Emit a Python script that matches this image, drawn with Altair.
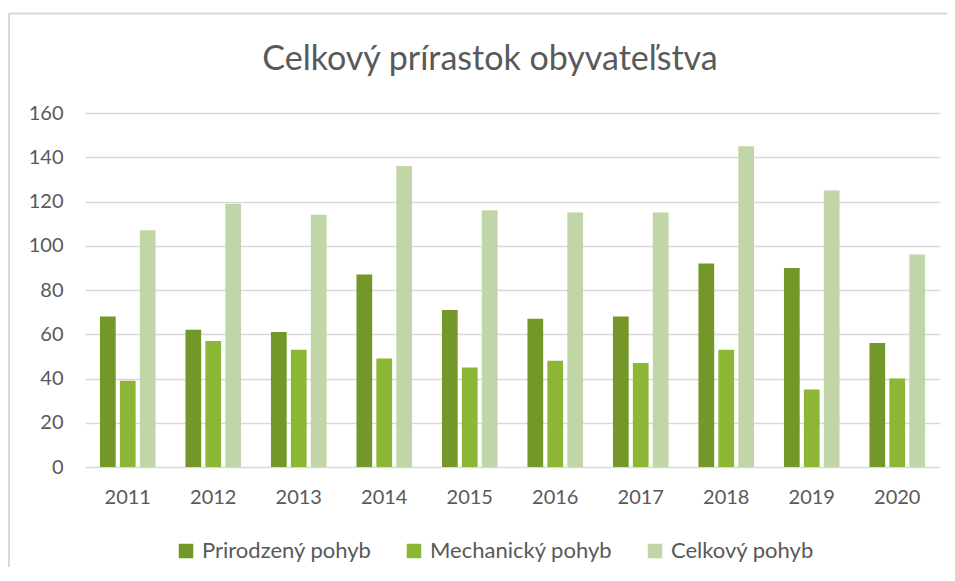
import altair as alt
import pandas as pd

years = ["2011", "2012", "2013", "2014", "2015", "2016", "2017", "2018", "2019", "2020"]
prirodzeny = [68, 62, 61, 87, 71, 67, 68, 92, 90, 56]
mechanicky = [39, 57, 53, 49, 45, 48, 47, 53, 35, 40]
celkovy = [107, 119, 114, 136, 116, 115, 115, 145, 125, 96]
series = ["Prirodzený pohyb", "Mechanický pohyb", "Celkový pohyb"]
colors = ["#739829", "#8BB734", "#C0D6A6"]
y_ticks = [0, 20, 40, 60, 80, 100, 120, 140, 160]
title_text = "Celkový prírastok obyvateľstva"

rows = []
for name, vals in zip(series, [prirodzeny, mechanicky, celkovy]):
    for yr, v in zip(years, vals):
        rows.append({"Rok": yr, "Séria": name, "Hodnota": v})
df = pd.DataFrame(rows)

FONT = "Lato"
TXT = "#595959"
W, H = 855, 354

bars = alt.Chart(df).mark_bar().encode(
    x=alt.X("Rok:N", sort=years, title=None,
            scale=alt.Scale(paddingInner=0, paddingOuter=0),
            axis=alt.Axis(labelAngle=0, domain=False, ticks=False, labelPadding=20,
                          labelFontSize=20, labelColor=TXT, labelFont=FONT)),
    xOffset=alt.XOffset("Séria:N", sort=series,
                        scale=alt.Scale(paddingInner=0.21, paddingOuter=0.75)),
    y=alt.Y("Hodnota:Q", title=None,
            scale=alt.Scale(domain=[0, 160], nice=False),
            axis=alt.Axis(values=y_ticks, domain=False, ticks=False, labelPadding=22,
                          labelFontSize=20, labelColor=TXT, labelFont=FONT,
                          gridColor="#D9D9D9", gridWidth=1.5)),
    color=alt.Color("Séria:N", sort=series,
                    scale=alt.Scale(domain=series, range=colors),
                    legend=alt.Legend(title=None, orient="none", direction="horizontal",
                                      legendX=90, legendY=427, symbolType="square",
                                      symbolSize=210, symbolStrokeWidth=0,
                                      labelFontSize=22, labelColor=TXT, labelFont=FONT,
                                      labelOffset=5, columnPadding=31, labelLimit=400)),
)

one = pd.DataFrame({"t": [title_text]})
title = alt.Chart(one).mark_text(font=FONT, fontSize=34, color=TXT, baseline="middle",
                                 align="center", clip=False).encode(
    text="t:N", x=alt.value(405), y=alt.value(-53))

frame_top = alt.Chart(one).mark_rule(color="#D9D9D9", strokeWidth=2, clip=False).encode(
    x=alt.value(-76), x2=alt.value(W + 20), y=alt.value(-99.5))
frame_left = alt.Chart(one).mark_rule(color="#D9D9D9", strokeWidth=2, clip=False).encode(
    x=alt.value(-76), y=alt.value(-99.5), y2=alt.value(H + 130))

chart = alt.layer(bars, title, frame_top, frame_left).properties(
    width=W, height=H,
    padding={"left": 77, "top": 105, "right": 7, "bottom": 100},
    autosize=alt.AutoSizeParams(type="none"),
).configure_view(stroke=None)

chart.save("out.html", embed_options={"renderer": "svg", "actions": False})
